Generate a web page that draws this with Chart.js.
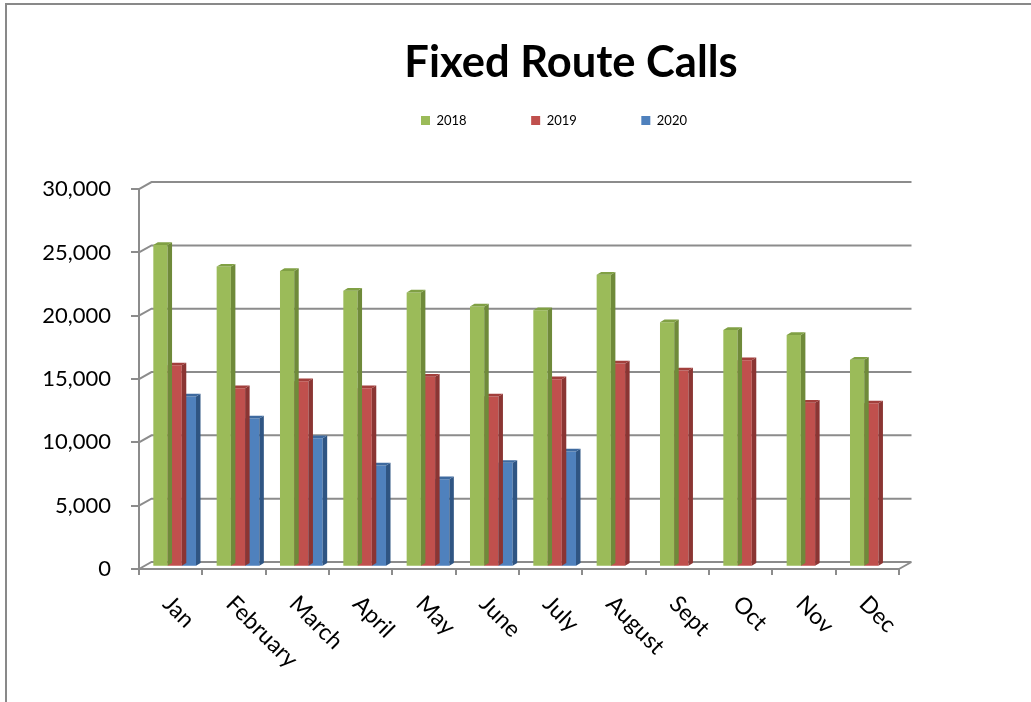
<!DOCTYPE html>
<html>
<head>
<meta charset="utf-8">
<title>Fixed Route Calls</title>
<script src="https://cdn.jsdelivr.net/npm/chart.js@4.4.1/dist/chart.umd.min.js"></script>
<style>
  html, body { margin: 0; padding: 0; background: #fff; overflow: hidden; }
  #frame {
    position: absolute;
    left: 5px;
    top: 3px;
    width: 1128px;
    height: 720px;
    border: 2px solid #898989;
  }
  #chart { display: block; }
</style>
</head>
<body>
<div id="frame"><canvas id="chart" width="1128" height="700"></canvas></div>
<script>
// Chart data
const months = ["Jan", "February", "March", "April", "May", "June", "July", "August", "Sept", "Oct", "Nov", "Dec"];
const calls2018 = [25400, 23700, 23350, 21800, 21650, 20550, 20250, 23050, 19300, 18700, 18300, 16350];
const calls2019 = [15900, 14100, 14650, 14100, 15000, 13450, 14800, 16050, 15500, 16300, 12950, 12900];
const calls2020 = [13450, 11700, 10150, 8000, 6900, 8200, 9100, null, null, null, null, null];
const yTicks = [0, 5000, 10000, 15000, 20000, 25000, 30000];

// Fake 3D look (Excel style)
const BAR_DX = 4.5, BAR_DY = 2.7;   // depth of each column
const WALL_DX = 12.5, WALL_DY = 7;  // back wall offset from front axes
const SHIFT_X = 4, SHIFT_Y = -2.3;  // columns sit a bit behind the front axes
const GRID_COLOR = "#8c8c8c";
const LEGEND_LEFT = 414, LEGEND_MID = 115.5;
const LABEL_DX = -4, LABEL_DY = 31;

Chart.defaults.font.family = "Lato";
Chart.defaults.color = "#000";

const excel3d = {
  id: "excel3d",
  afterLayout(chart) {
    // move legend to where Excel put it
    const lg = chart.legend;
    if (!lg || !lg.lineWidths) return;
    const pad = lg.options.labels.padding;
    const x0 = (lg.left + pad + lg.right - lg.lineWidths[0]) / 2;
    const dx = LEGEND_LEFT - x0;
    const dy = LEGEND_MID - (lg.top + pad + 6.5);
    lg.left += dx;
    lg.right += dx;
    lg.top += dy;
    lg.bottom += dy;
  },
  beforeDatasetsDraw(chart) {
    const { ctx, chartArea: a, scales } = chart;
    const y = scales.y;
    ctx.save();
    ctx.strokeStyle = GRID_COLOR;
    ctx.lineWidth = 2;
    ctx.beginPath();
    yTicks.forEach((v) => {
      const py = y.getPixelForValue(v);
      ctx.moveTo(a.left, py);
      ctx.lineTo(a.left + WALL_DX, py - WALL_DY);
      ctx.lineTo(a.right + WALL_DX, py - WALL_DY);
    });
    ctx.moveTo(a.right, a.bottom);
    ctx.lineTo(a.right + WALL_DX, a.bottom - WALL_DY);
    ctx.stroke();
    ctx.restore();

    ctx.save();
    ctx.translate(SHIFT_X, SHIFT_Y);
  },
  afterDatasetDraw(chart, args) {
    const ctx = chart.ctx;
    const ds = chart.data.datasets[args.index];
    args.meta.data.forEach((bar, i) => {
      if (ds.data[i] == null) return;
      const { x, y, base, width } = bar.getProps(["x", "y", "base", "width"]);
      const l = x - width / 2;
      const r = x + width / 2;
      // right side
      ctx.fillStyle = ds.sideColor;
      ctx.beginPath();
      ctx.moveTo(r, y);
      ctx.lineTo(r + BAR_DX, y - BAR_DY);
      ctx.lineTo(r + BAR_DX, base - BAR_DY);
      ctx.lineTo(r, base);
      ctx.closePath();
      ctx.fill();
      // top
      ctx.fillStyle = ds.topColor;
      ctx.beginPath();
      ctx.moveTo(l, y);
      ctx.lineTo(l + BAR_DX, y - BAR_DY);
      ctx.lineTo(r + BAR_DX, y - BAR_DY);
      ctx.lineTo(r, y);
      ctx.closePath();
      ctx.fill();
    });
  },
  afterDatasetsDraw(chart) {
    chart.ctx.restore();
  },
  afterDraw(chart) {
    // slanted month labels, reading down to the right
    const { ctx, chartArea: a, scales } = chart;
    ctx.save();
    ctx.font = "23px Lato";
    ctx.fillStyle = "#000";
    ctx.textAlign = "left";
    ctx.textBaseline = "middle";
    months.forEach((m, i) => {
      const cx = scales.x.getPixelForValue(i);
      ctx.save();
      ctx.translate(cx + LABEL_DX, a.bottom + LABEL_DY);
      ctx.rotate(Math.PI / 4);
      ctx.fillText(m, 0, 0);
      ctx.restore();
    });
    ctx.restore();
  },
};

const ctx = document.getElementById("chart").getContext("2d");
new Chart(ctx, {
  type: "bar",
  data: {
    labels: months,
    datasets: [
      { label: "2018", data: calls2018, backgroundColor: "#9bbb59", sideColor: "#6f8a3a", topColor: "#80a044" },
      { label: "2019", data: calls2019, backgroundColor: "#c0504d", sideColor: "#8b3533", topColor: "#a23f3c" },
      { label: "2020", data: calls2020, backgroundColor: "#4f81bd", sideColor: "#2f5583", topColor: "#3e6a9f" },
    ].map((d) => Object.assign(d, { borderWidth: 0, categoryPercentage: 0.674, barPercentage: 1, clip: false })),
  },
  options: {
    responsive: false,
    animation: false,
    devicePixelRatio: 1,
    layout: { padding: { left: 0, right: 0, top: 0, bottom: 130 } },
    plugins: {
      title: {
        display: true,
        text: "Fixed Route Calls",
        color: "#000",
        font: { family: "Lato", size: 43.5, weight: "bold", lineHeight: 1.2 },
        padding: { top: 31.9, bottom: 12.5 },
      },
      legend: {
        position: "top",
        labels: {
          boxWidth: 9,
          boxHeight: 9,
          padding: 64.5,
          color: "#000",
          font: { family: "Lato", size: 13 },
        },
      },
      tooltip: { enabled: false },
    },
    scales: {
      x: {
        grid: { offset: true, drawOnChartArea: false, drawTicks: true, tickLength: 6, color: GRID_COLOR, lineWidth: 2 },
        border: { display: true, color: GRID_COLOR, width: 2 },
        ticks: { display: false },
        afterFit: (s) => { s.height = 6; },
      },
      y: {
        min: 0,
        max: 30000,
        afterBuildTicks: (s) => { s.ticks = yTicks.map((v) => ({ value: v })); },
        grid: { drawOnChartArea: false, drawTicks: true, tickLength: 8, color: GRID_COLOR, lineWidth: 2 },
        border: { display: true, color: GRID_COLOR, width: 2 },
        ticks: {
          padding: 20,
          color: "#000",
          font: { family: "Lato", size: 22 },
          callback: (v) => Number(v).toLocaleString("en-US"),
        },
        afterFit: (s) => { s.width = 132; },
      },
      y2: {
        type: "linear",
        position: "right",
        grid: { display: false },
        border: { display: false },
        ticks: { display: false },
        afterFit: (s) => { s.width = 236; },
      },
    },
  },
  plugins: [excel3d],
});
</script>
</body>
</html>
